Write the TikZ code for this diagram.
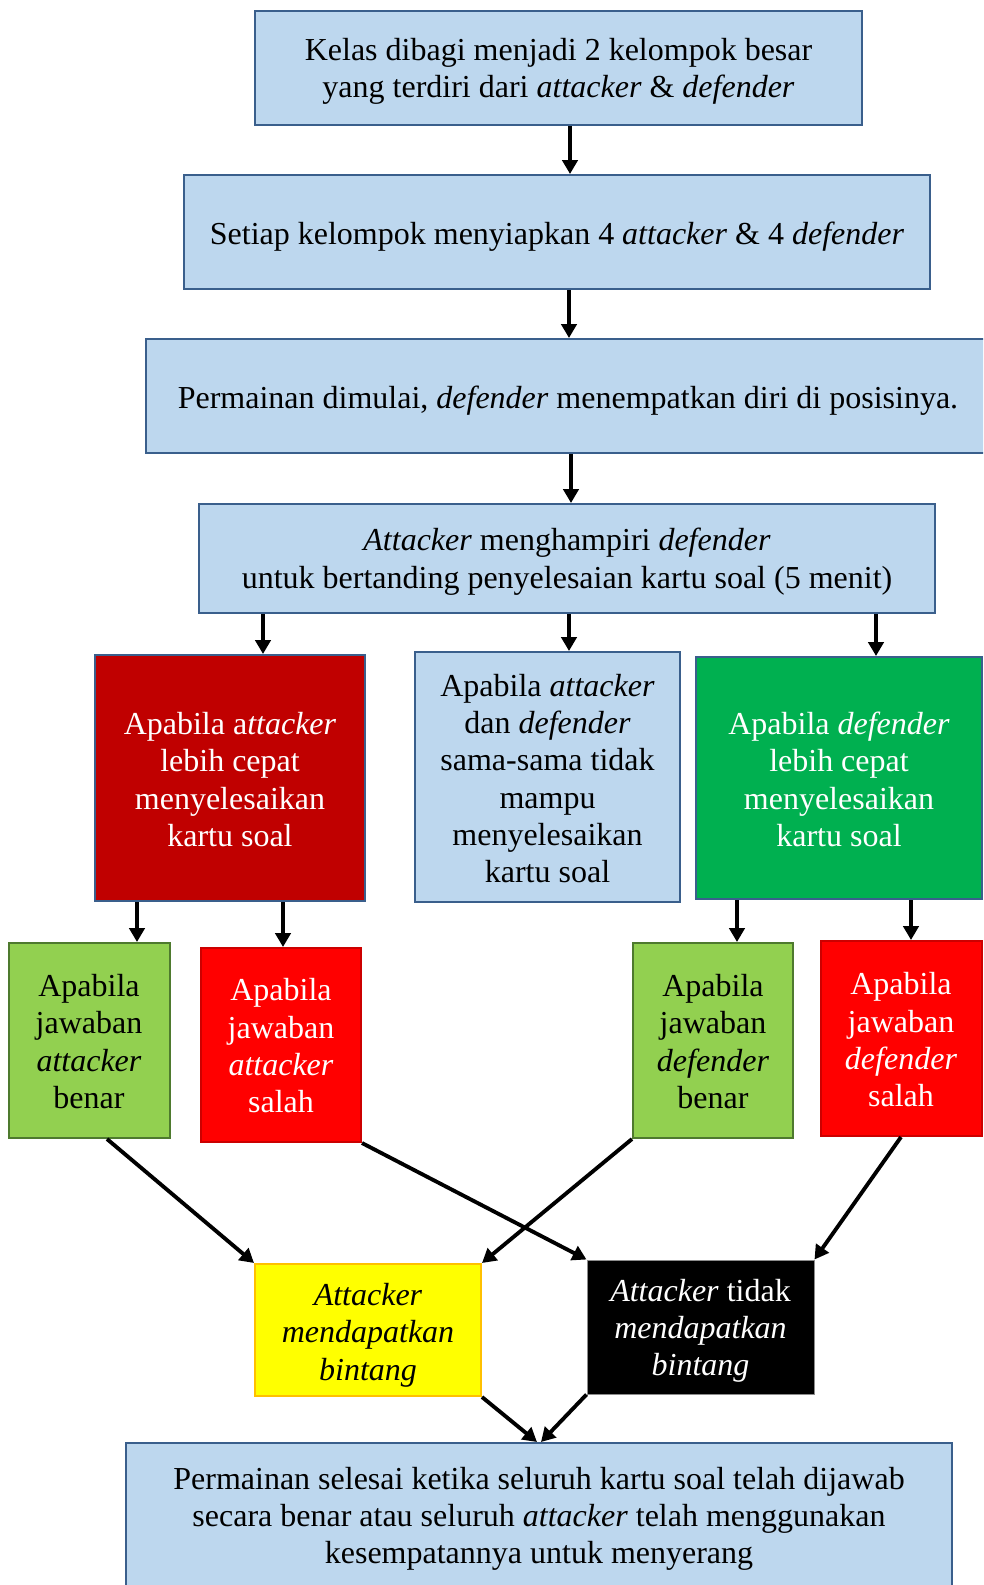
\documentclass[tikz,border=0pt]{standalone}
\usepackage{fontspec}
\setmainfont{Liberation Serif}
\usetikzlibrary{arrows.meta}
\definecolor{lblue}{HTML}{BDD7EE}
\definecolor{bborder}{HTML}{3A5F8C}
\definecolor{dred}{HTML}{C00000}
\definecolor{dgreen}{HTML}{00B050}
\definecolor{lgreen}{HTML}{92D050}
\definecolor{gborder}{HTML}{4E7A2E}
\definecolor{rred}{HTML}{FF0000}
\definecolor{rborder}{HTML}{CC0000}
\definecolor{yel}{HTML}{FFFF00}
\definecolor{yborder}{HTML}{FFC000}
\newdimen\pxu \pxu=0.75pt
\newcommand{\tx}[2]{\raisebox{-#1\pxu}[\height][\depth]{\begin{tabular}{@{}c@{}}#2\end{tabular}}}
\tikzset{
  every node/.style={font=\fontsize{24}{28}\selectfont, align=center, inner sep=0pt},
  box/.style={rectangle, line width=1.5pt},
  bluebox/.style={box, draw=bborder, fill=lblue, text=black},
  darkredbox/.style={box, draw=bborder, fill=dred, text=white},
  greenbox/.style={box, draw=bborder, fill=dgreen, text=white},
  lgreenbox/.style={box, draw=gborder, fill=lgreen, text=black},
  redbox/.style={box, draw=rborder, fill=rred, text=white},
  yellowbox/.style={box, draw=yborder, fill=yel, text=black},
  blackbox/.style={box, line width=0.75pt, draw=black!45, fill=black, text=white},
  arr/.style={line width=2.9pt, -{Triangle[length=10.5pt,width=11.5pt]}},
}
\begin{document}
\begin{tikzpicture}[x=0.75pt,y=-0.75pt]
\useasboundingbox (0,0) rectangle (983,1585);
\clip (0,0) rectangle (983,1585);

\node[bluebox, minimum width=607*\pxu, minimum height=114*\pxu] (b1) at (558.5,68)
  {\tx{3.5}{Kelas dibagi menjadi 2 kelompok besar\\yang terdiri dari \textit{attacker} \& \textit{defender}}};
\node[bluebox, minimum width=746*\pxu, minimum height=114*\pxu] (b2) at (557,232)
  {\tx{5}{Setiap kelompok menyiapkan 4 \textit{attacker} \& 4 \textit{defender}}};
\node[bluebox, minimum width=844*\pxu, minimum height=114*\pxu] (b3) at (568,396)
  {\tx{5}{Permainan dimulai, \textit{defender} menempatkan diri di posisinya.}};
\node[bluebox, minimum width=736*\pxu, minimum height=109*\pxu] (b4) at (567,558.5)
  {\tx{3.5}{\textit{Attacker} menghampiri \textit{defender}\\untuk bertanding penyelesaian kartu soal (5 menit)}};

\node[darkredbox, minimum width=270*\pxu, minimum height=246*\pxu] (ra) at (230,778)
  {\tx{5}{Apabila a\textit{ttacker}\\lebih cepat\\menyelesaikan\\kartu soal}};
\node[bluebox, minimum width=265*\pxu, minimum height=250*\pxu] (mid) at (547.5,777)
  {\tx{5}{Apabila \textit{attacker}\\dan \textit{defender}\\sama-sama tidak\\mampu\\menyelesaikan\\kartu soal}};
\node[greenbox, minimum width=286*\pxu, minimum height=242*\pxu] (gd) at (839,778)
  {\tx{5}{Apabila \textit{defender}\\lebih cepat\\menyelesaikan\\kartu soal}};

\node[lgreenbox, minimum width=161*\pxu, minimum height=195*\pxu] (g1) at (89,1040.5)
  {\tx{4.5}{Apabila\\jawaban\\\textit{attacker}\\benar}};
\node[redbox, minimum width=160*\pxu, minimum height=194*\pxu] (r1) at (281,1045)
  {\tx{4.5}{Apabila\\jawaban\\\textit{attacker}\\salah}};
\node[lgreenbox, minimum width=160*\pxu, minimum height=195*\pxu] (g2) at (713,1040.5)
  {\tx{4.5}{Apabila\\jawaban\\\textit{defender}\\benar}};
\node[redbox, minimum width=161*\pxu, minimum height=195*\pxu] (r2) at (901,1038.5)
  {\tx{5}{Apabila\\jawaban\\\textit{defender}\\salah}};

\node[yellowbox, minimum width=226*\pxu, minimum height=132*\pxu] (ys) at (368,1330)
  {\tx{5.5}{\textit{Attacker}\\\textit{mendapatkan}\\\textit{bintang}}};
\node[blackbox, minimum width=227*\pxu, minimum height=134*\pxu] (bk) at (700.5,1327)
  {\tx{4}{\textit{Attacker} tidak\\\textit{mendapatkan}\\\textit{bintang}}};

\node[bluebox, minimum width=826*\pxu, minimum height=150*\pxu] (bot) at (539,1518)
  {\tx{1}{Permainan selesai ketika seluruh kartu soal telah dijawab\\secara benar atau seluruh \textit{attacker} telah menggunakan\\kesempatannya untuk menyerang}};

\draw[arr] (b1.south -| 570,0) -- (b2.north -| 570,0);
\draw[arr] (b2.south -| 569,0) -- (b3.north -| 569,0);
\draw[arr] (b3.south -| 571,0) -- (b4.north -| 571,0);

\draw[arr] (b4.south -| 263,0) -- (ra.north -| 263,0);
\draw[arr] (b4.south -| 569,0) -- (mid.north -| 569,0);
\draw[arr] (b4.south -| 876,0) -- (gd.north -| 876,0);

\draw[arr] (ra.south -| 137,0) -- (g1.north -| 137,0);
\draw[arr] (ra.south -| 283,0) -- (r1.north -| 283,0);
\draw[arr] (gd.south -| 737,0) -- (g2.north -| 737,0);
\draw[arr] (gd.south -| 911,0) -- (r2.north -| 911,0);

\draw[arr] (g1.south -| 107,0) -- (ys.north west);
\draw[arr] (r1.south east) -- (bk.north west);
\draw[arr] (g2.south west) -- (ys.north east);
\draw[arr] (r2.south) -- (bk.north east);

\draw[arr] (ys.south east) -- ([xshift=-1.5pt]bot.north);
\draw[arr] (bk.south west) -- ([xshift=1.5pt]bot.north);
\end{tikzpicture}
\end{document}
